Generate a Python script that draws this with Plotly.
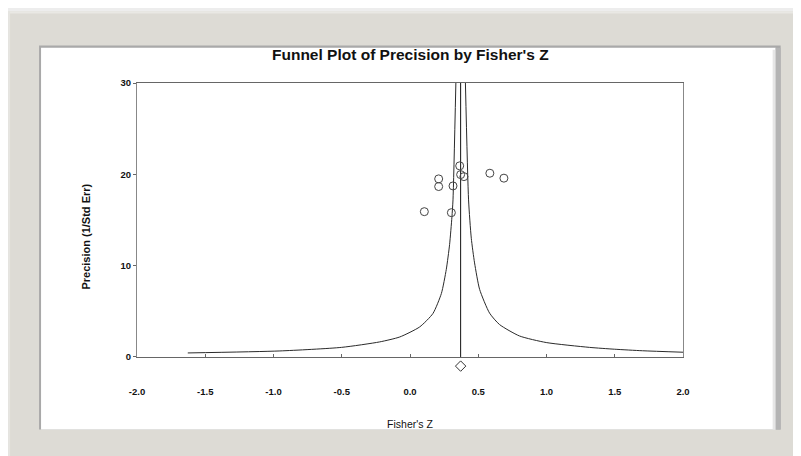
import plotly.graph_objects as go

# ---- data ----
study_z = [0.364, 0.371, 0.395, 0.210, 0.210, 0.315, 0.585, 0.688, 0.105, 0.303]
study_prec = [20.93, 19.97, 19.75, 19.50, 18.66, 18.73, 20.12, 19.58, 15.91, 15.80]

pooled_z = [0.371]
pooled_prec = [-1.0]

mean_line_z = [0.371, 0.371]
mean_line_prec = [0, 30]

left_z = [-1.628, -0.953, -0.502, -0.222, -0.075, 0.071, 0.168, 0.230, 0.266, 0.290, 0.307, 0.315, 0.336]
left_prec = [0.44, 0.66, 1.05, 1.65, 2.19, 3.29, 4.76, 6.96, 9.6, 12.3, 15.3, 17.2, 30]

right_z = [0.406, 0.429, 0.449, 0.473, 0.510, 0.583, 0.656, 0.802, 0.998, 1.315, 1.497, 1.704, 2.0]
right_prec = [30, 17.2, 13.0, 10.3, 7.4, 4.8, 3.55, 2.3, 1.58, 1.05, 0.85, 0.68, 0.52]

x_ticks = [-2.0, -1.5, -1.0, -0.5, 0.0, 0.5, 1.0, 1.5, 2.0]
y_ticks = [0, 10, 20, 30]
x_range = [-2.0, 2.0]
y_range = [0, 30]

# page is offset by the 8px body margin
OFF = 8
W, H = 801 - OFF, 456 - OFF
L, R, T, B = 137, 683.3, 83.3, 356.7  # main plot area in page pixels
EXT = 16                               # extra strip below the axis for the pooled diamond
B2 = B + EXT
unit = (B - T) / (y_range[1] - y_range[0])
y2_range = [y_range[0] - EXT / unit, y_range[1]]
dom0 = EXT / (B2 - T)


def px(x):
    return (x - L) / (R - L)


def py(y):
    return (B2 - y) / (B2 - T)


fig = go.Figure()

fig.add_trace(go.Scatter(x=left_z, y=left_prec, mode="lines",
                         line=dict(color="#2a2a2a", width=1, shape="spline", smoothing=0.6),
                         hoverinfo="skip", showlegend=False))
fig.add_trace(go.Scatter(x=right_z, y=right_prec, mode="lines",
                         line=dict(color="#2a2a2a", width=1, shape="spline", smoothing=0.6),
                         hoverinfo="skip", showlegend=False))
fig.add_trace(go.Scatter(x=mean_line_z, y=mean_line_prec, mode="lines",
                         line=dict(color="#111111", width=1),
                         hoverinfo="skip", showlegend=False))
fig.add_trace(go.Scatter(x=study_z, y=study_prec, mode="markers",
                         marker=dict(symbol="circle-open", size=8, color="#444444",
                                     line=dict(width=1)),
                         showlegend=False))
fig.add_trace(go.Scatter(x=pooled_z, y=pooled_prec, mode="markers",
                         xaxis="x2", yaxis="y2",
                         marker=dict(symbol="diamond-open", size=8, color="#333333",
                                     line=dict(width=1, color="#333333")),
                         showlegend=False))

shapes = []
# outer panel
shapes.append(dict(type="rect", xref="paper", yref="paper", layer="below",
                   x0=px(8), x1=px(820), y0=py(12), y1=py(470),
                   fillcolor="#dddbd5", line=dict(width=0)))
# highlight on panel
shapes.append(dict(type="rect", xref="paper", yref="paper", layer="below",
                   x0=px(8), x1=px(820), y0=py(12), y1=py(14),
                   fillcolor="#e9e8e4", line=dict(width=0)))
shapes.append(dict(type="rect", xref="paper", yref="paper", layer="below",
                   x0=px(8), x1=px(10), y0=py(12), y1=py(470),
                   fillcolor="#e6e5e1", line=dict(width=0)))
# inner white area
shapes.append(dict(type="rect", xref="paper", yref="paper", layer="below",
                   x0=px(39), x1=px(781), y0=py(46), y1=py(429),
                   fillcolor="#a9a9a9", line=dict(width=0)))
shapes.append(dict(type="rect", xref="paper", yref="paper", layer="below",
                   x0=px(41), x1=px(776), y0=py(48), y1=py(429),
                   fillcolor="#ffffff", line=dict(width=0)))
# right edge shading
shapes.append(dict(type="rect", xref="paper", yref="paper", layer="below",
                   x0=px(773), x1=px(776), y0=py(50), y1=py(429),
                   fillcolor="#e6e6e6", line=dict(width=0)))
shapes.append(dict(type="rect", xref="paper", yref="paper", layer="below",
                   x0=px(776), x1=px(781), y0=py(48), y1=py(429),
                   fillcolor="#b4b4b4", line=dict(width=0)))

annotations = [
    dict(text="<b>Precision (1/Std Err)</b>", textangle=-90,
         xref="paper", yref="paper", x=px(85.5), y=py(237),
         xanchor="center", yanchor="middle", showarrow=False,
         font=dict(family="Liberation Sans", size=11, color="#111111")),
]

fig.update_layout(
    width=W, height=H,
    margin=dict(l=L - OFF, r=801 - R, t=T - OFF, b=456 - B2, pad=0),
    paper_bgcolor="#ededed",
    plot_bgcolor="rgba(0,0,0,0)",
    shapes=shapes,
    annotations=annotations,
    title=dict(text="Funnel Plot of Precision by Fisher's Z",
               x=px(410.5), xanchor="center", xref="paper",
               y=1 - (55 - OFF) / H, yanchor="middle", yref="container",
               font=dict(family="Liberation Sans", size=15.5, color="#111111", weight="bold")),
    font=dict(family="Liberation Sans", color="#111111"),
    xaxis=dict(range=x_range, tickvals=x_ticks, domain=[0, 1], anchor="y",
               ticktext=[f"{v:.1f}" for v in x_ticks],
               ticks="inside", ticklen=3, tickcolor="#666666",
               showgrid=False, zeroline=False,
               showline=True, linecolor="#666666", linewidth=1, mirror=True,
               ticklabelstandoff=26,
               tickfont=dict(size=9.5, weight="bold", color="#111111"),
               title=dict(text="Fisher's Z", standoff=24,
                          font=dict(size=10.5, color="#111111"))),
    yaxis=dict(range=y_range, tickvals=y_ticks, domain=[dom0, 1], anchor="x",
               ticks="outside", ticklen=3, tickcolor="#666666",
               showgrid=False, zeroline=False,
               showline=True, linecolor="#888888", linewidth=1, mirror=True,
               tickfont=dict(size=9.5, weight="bold", color="#111111")),
    xaxis2=dict(range=x_range, domain=[0, 1], anchor="y2", visible=False,
                showgrid=False, zeroline=False),
    yaxis2=dict(range=y2_range, domain=[0, 1], anchor="x2", visible=False,
                showgrid=False, zeroline=False),
)

fig.write_html("out.html")
